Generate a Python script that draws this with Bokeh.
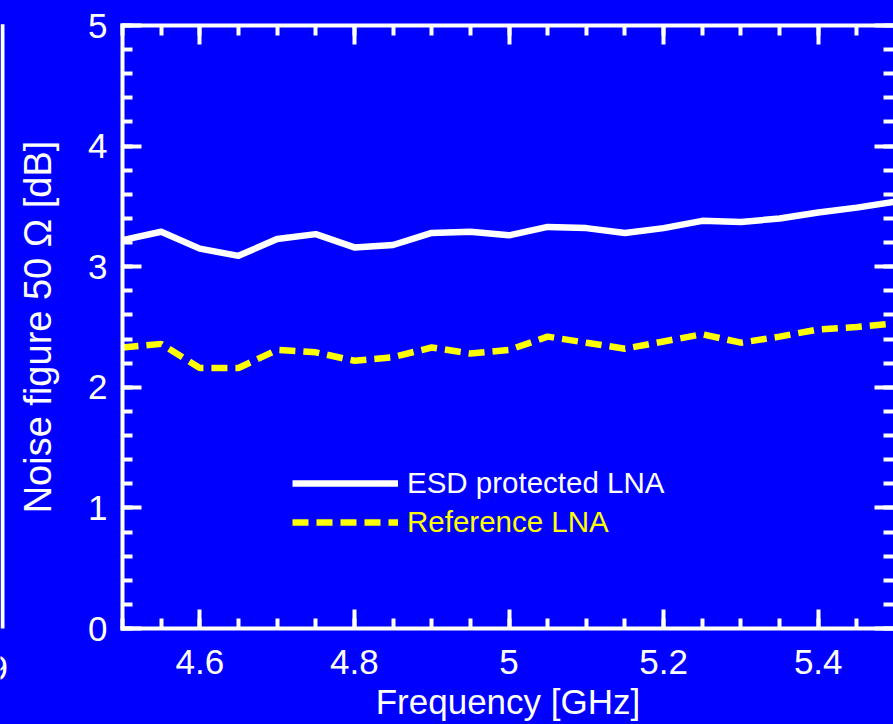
from bokeh.plotting import figure
from bokeh.layouts import row
from bokeh.models import (LinearAxis, SingleIntervalTicker, CustomJSTickFormatter,
                          Legend, LegendItem, Range1d, GlobalInlineStyleSheet)
from bokeh.core.properties import value
from bokeh.embed import file_html
from bokeh.resources import INLINE

# ---- data ----
freq_ghz = [4.50, 4.55, 4.60, 4.65, 4.70, 4.75, 4.80, 4.85, 4.90, 4.95, 5.00,
            5.05, 5.10, 5.15, 5.20, 5.25, 5.30, 5.35, 5.40, 5.45, 5.50]
esd_nf_db = [3.22, 3.29, 3.15, 3.09, 3.23, 3.27, 3.16, 3.18, 3.28, 3.29, 3.26,
             3.33, 3.32, 3.28, 3.32, 3.38, 3.37, 3.40, 3.45, 3.49, 3.54]
ref_nf_db = [2.33, 2.36, 2.16, 2.16, 2.31, 2.29, 2.22, 2.25, 2.33, 2.28, 2.31,
             2.42, 2.37, 2.32, 2.38, 2.44, 2.37, 2.42, 2.48, 2.50, 2.53]
series_labels = ["ESD protected LNA", "Reference LNA"]
x_label = "Frequency [GHz]"
y_label = "Noise figure 50 \u03a9 [dB]"

# fragment of the neighbouring panel seen at the far left edge
neighbour_tick_label = "9"

BLUE = "#0000ff"
WHITE = "#ffffff"
YELLOW = "#ffff00"
FONT = "Liberation Sans"

EDGE_W = 8
TOTAL_H = 724
BORDER_TOP = 25
BORDER_BOTTOM = 96
PX_PER_DB = (TOTAL_H - BORDER_TOP - BORDER_BOTTOM) / 5.0

p = figure(width=893 - EDGE_W, height=TOTAL_H,
           x_range=Range1d(4.5, 5.4974), y_range=Range1d(0, 5),
           output_backend="svg", toolbar_location=None,
           x_axis_location=None, y_axis_location=None,
           min_border_left=122 - EDGE_W, min_border_right=0,
           min_border_top=BORDER_TOP, min_border_bottom=BORDER_BOTTOM,
           background_fill_color=BLUE, border_fill_color=BLUE,
           outline_line_color=None)
p.xgrid.visible = False
p.ygrid.visible = False

blank = CustomJSTickFormatter(code="return '';")


def style_axis(ax, show_labels):
    ax.axis_line_color = WHITE
    ax.axis_line_width = 4
    ax.axis_line_cap = "square"
    ax.major_tick_line_color = WHITE
    ax.major_tick_line_width = 4
    ax.minor_tick_line_color = WHITE
    ax.minor_tick_line_width = 4
    ax.major_tick_in = 19
    ax.major_tick_out = 0
    ax.minor_tick_in = 10
    ax.minor_tick_out = 0
    ax.major_label_text_color = WHITE
    ax.major_label_text_font = FONT
    ax.axis_label_text_color = WHITE
    ax.axis_label_text_font = FONT
    ax.axis_label_text_font_style = "normal"
    if show_labels:
        ax.major_label_text_font_size = "35px"
    else:
        ax.formatter = blank
        ax.major_label_text_font_size = "2px"
        ax.major_label_standoff = 0


fmt_x = CustomJSTickFormatter(code="return tick.toFixed(1).replace(/\\.0$/, '');")

xb = LinearAxis(ticker=SingleIntervalTicker(interval=0.2, num_minor_ticks=4),
                formatter=fmt_x, axis_label=x_label)
style_axis(xb, True)
xb.major_label_standoff = 21
xb.axis_label_text_font_size = "35px"
xb.axis_label_standoff = 5
p.add_layout(xb, "below")

xt = LinearAxis(ticker=SingleIntervalTicker(interval=0.2, num_minor_ticks=4))
style_axis(xt, False)
p.add_layout(xt, "above")

yl = LinearAxis(ticker=SingleIntervalTicker(interval=1, num_minor_ticks=5),
                axis_label=y_label)
style_axis(yl, True)
yl.major_label_standoff = 15
yl.axis_label_text_font_size = "38px"
yl.axis_label_standoff = 26
p.add_layout(yl, "left")

yr = LinearAxis(ticker=SingleIntervalTicker(interval=1, num_minor_ticks=5))
style_axis(yr, False)
yr.axis_line_color = None
p.add_layout(yr, "right")

r_esd = p.line(freq_ghz, esd_nf_db, line_color=WHITE, line_width=6.5,
               line_join="round")
r_ref = p.line(freq_ghz, ref_nf_db, line_color=YELLOW, line_width=6.5,
               line_dash="16 8")


def make_legend(label, renderer, color, loc):
    lg = Legend(items=[LegendItem(label=label, renderers=[renderer])],
                location=loc, orientation="vertical",
                glyph_width=106, glyph_height=38, label_height=38,
                label_standoff=9, padding=0, margin=0, spacing=0,
                border_line_color=None, background_fill_alpha=0,
                label_text_color=color, label_text_font=FONT,
                label_text_font_size="29.5px")
    p.add_layout(lg, "center")


make_legend(series_labels[0], r_esd, WHITE, (170, 126))
make_legend(series_labels[1], r_ref, YELLOW, (170, 87))

# narrow strip showing the right edge of the neighbouring panel,
# on the same dB scale as the main panel but spanning the full height
edge = figure(width=EDGE_W, height=TOTAL_H,
              x_range=Range1d(0, EDGE_W),
              y_range=Range1d(-BORDER_BOTTOM / PX_PER_DB, 5 + BORDER_TOP / PX_PER_DB),
              output_backend="svg", toolbar_location=None,
              x_axis_location=None, y_axis_location=None,
              min_border_left=0, min_border_right=0,
              min_border_top=0, min_border_bottom=0,
              background_fill_color=BLUE, border_fill_color=BLUE,
              outline_line_color=None)
edge.frame_align = False
edge.xgrid.visible = False
edge.ygrid.visible = False
edge.quad(left=[0], right=[4], bottom=[0], top=[5.01],
          fill_color=WHITE, line_color=None)
edge.text(x=[7.5], y=[-0.33], text=[neighbour_tick_label],
          text_align="right", text_baseline="alphabetic",
          text_color=WHITE, text_font=value(FONT), text_font_size="35px")

layout = row(edge, p, spacing=0)
layout.stylesheets = [GlobalInlineStyleSheet(css="body { background: #0000ff; }")]

open("out.html", "w").write(file_html(layout, INLINE))
